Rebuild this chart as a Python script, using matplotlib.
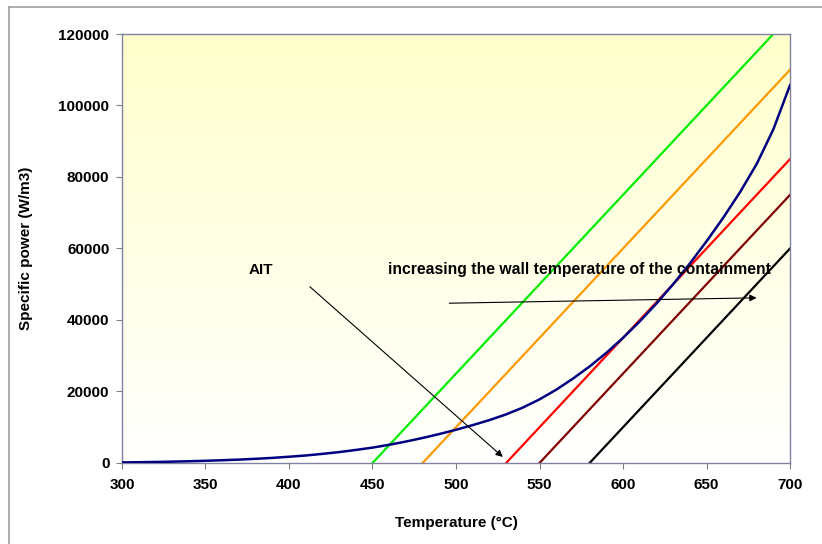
import numpy as np
import matplotlib.pyplot as plt
from matplotlib.lines import Line2D

# ==========================================================
# DATA
# ==========================================================

# specific power released by the reaction (blue curve)
temp_reaction = [300, 310, 320, 330, 340, 350, 360, 370, 380, 390,
                 400, 410, 420, 430, 440, 450, 460, 470, 480, 490,
                 500, 510, 520, 530, 540, 550, 560, 570, 580, 590,
                 600, 610, 620, 630, 640, 650, 660, 670, 680, 690, 700]
power_reaction = [160, 220, 290, 380, 490, 620, 770, 950, 1170, 1430,
                  1750, 2100, 2550, 3050, 3650, 4300, 5100, 6000, 7000, 8100,
                  9300, 10600, 12000, 13600, 15500, 17800, 20500, 23600, 27000, 30800,
                  35000, 39600, 44600, 50000, 55800, 62000, 68600, 75700, 83600, 93300, 105700]

# heat removed through the wall, one straight line per wall temperature
wall_temp_x = [
    [450, 690],
    [480, 700],
    [530, 700],
    [550, 700],
    [580, 700],
]
wall_power_y = [
    [0, 120000],
    [0, 110000],
    [0, 85000],
    [0, 75000],
    [0, 60000],
]
wall_colors = ["#00ee00", "#ff9900", "#ff0000", "#800000", "#000000"]

x_ticks = [300, 350, 400, 450, 500, 550, 600, 650, 700]
y_ticks = [0, 20000, 40000, 60000, 80000, 100000, 120000]

# ==========================================================
# FIGURE
# ==========================================================

plt.rcParams["font.family"] = ["Liberation Sans", "DejaVu Sans"]

fig = plt.figure(figsize=(8.22, 5.44), dpi=100)
ax = fig.add_axes([0.1484, 0.1489, 0.8127, 0.7886])

# white (bottom) to light yellow (top) background gradient
grad = np.linspace(0, 1, 256)[:, None, None]
top = np.array([1.0, 1.0, 0.80])
bot = np.array([1.0, 1.0, 1.0])
img = bot * (1 - grad) + top * grad
img = np.repeat(img, 2, axis=1)
ax.imshow(img, extent=[300, 700, 0, 120000], origin="lower",
          aspect="auto", zorder=0)

for xs, ys, c in zip(wall_temp_x, wall_power_y, wall_colors):
    ax.plot(xs, ys, color=c, lw=1.6, zorder=2)

ax.plot(temp_reaction, power_reaction, color="#000080", lw=1.8, zorder=3)

ax.set_xlim(300, 700)
ax.set_ylim(0, 120000)
ax.set_xticks(x_ticks)
ax.set_yticks(y_ticks)
ax.set_xticklabels([str(v) for v in x_ticks], fontsize=11, fontweight="bold")
ax.set_yticklabels([str(v) for v in y_ticks], fontsize=11, fontweight="bold")
ax.tick_params(direction="out", length=4, color="#808080")
ax.tick_params(axis="x", pad=7)
ax.tick_params(axis="y", pad=5)

for s in ax.spines.values():
    s.set_color("#8080a0")
    s.set_linewidth(1.0)

ax.set_xlabel("Temperature (°C)", fontsize=11, fontweight="bold", labelpad=17)
ax.set_ylabel("Specific power (W/m3)", fontsize=11, fontweight="bold", labelpad=18)

# annotations
ax.text(383, 54000, "AIT", fontsize=11, fontweight="bold", va="center", ha="center")
ax.annotate("", xy=(528, 1700), xytext=(412.5, 49300),
            arrowprops=dict(arrowstyle="-|>", color="black", lw=0.8,
                            mutation_scale=10, shrinkA=0, shrinkB=0))

ax.text(459, 54000, "increasing the wall temperature of the containment",
        fontsize=11.3, fontweight="bold", va="center", ha="left")
ax.annotate("", xy=(680, 46200), xytext=(496, 44700),
            arrowprops=dict(arrowstyle="-|>", color="black", lw=0.8,
                            mutation_scale=10, shrinkA=0, shrinkB=0))

# outer chart frame (top and left edges visible)
fig.add_artist(Line2D([9 / 822, 1], [1 - 7 / 544, 1 - 7 / 544],
                      transform=fig.transFigure, color="#a0a0a0", lw=1.2))
fig.add_artist(Line2D([9 / 822, 9 / 822], [0, 1 - 7 / 544],
                      transform=fig.transFigure, color="#a0a0a0", lw=1.2))

fig.savefig("out.png", dpi=100)
